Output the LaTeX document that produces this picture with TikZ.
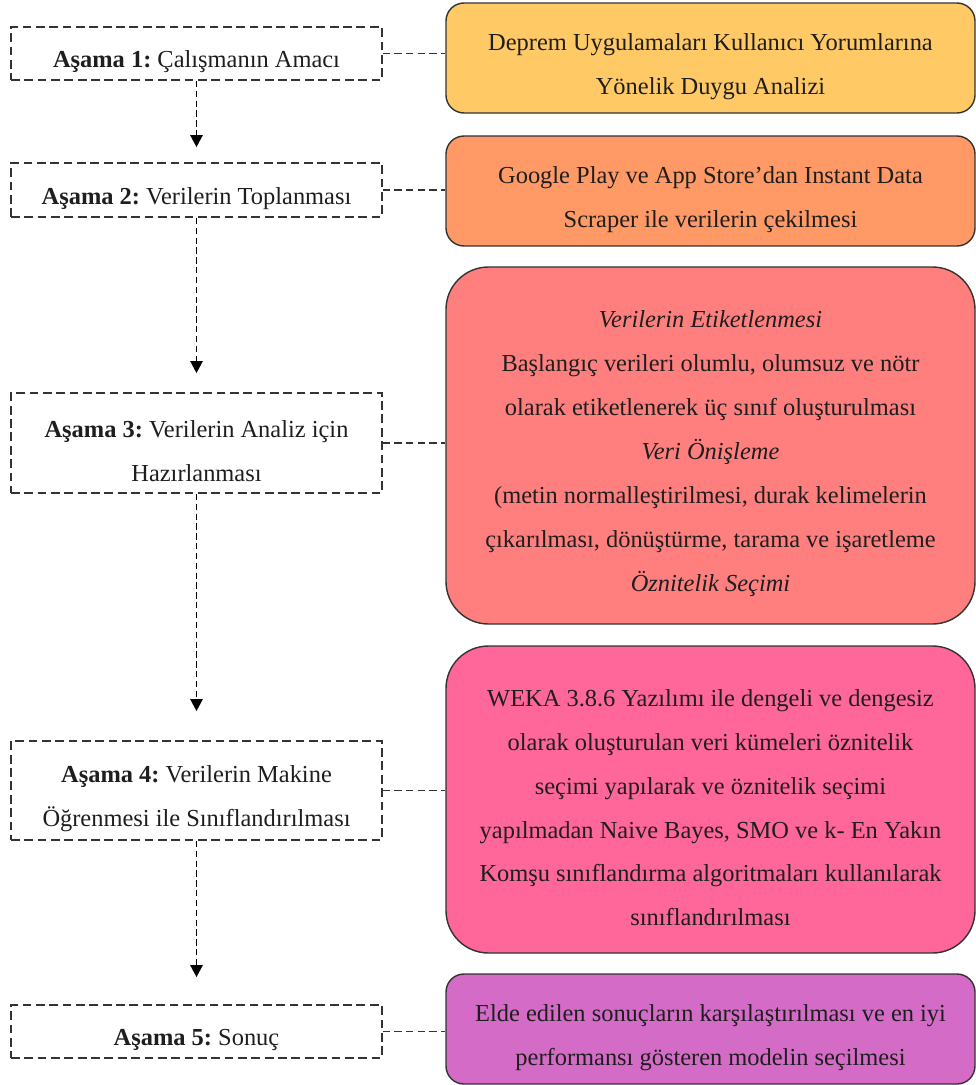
\documentclass[tikz,border=0pt]{standalone}
\usepackage{fontspec}
\setmainfont{Liberation Serif}
\usepackage{tikz}
\usetikzlibrary{positioning, arrows.meta, calc}
\definecolor{stepYellow}{HTML}{FFC966}
\definecolor{stepOrange}{HTML}{FF9966}
\definecolor{stepSalmon}{HTML}{FF7F7F}
\definecolor{stepPink}{HTML}{FF6699}
\definecolor{stepPurple}{HTML}{D46BC7}
\definecolor{lineGray}{HTML}{333333}
\definecolor{textDark}{HTML}{1E1E1E}
\frenchspacing
% extra room above the first line, as the text sits a little low
\newcommand{\lowtext}{\rule{0pt}{19pt}}

\begin{document}
\begin{tikzpicture}[
    every node/.style={font=\fontsize{13.9}{25}\selectfont, align=center, text=textDark},
    stage/.style={
        rectangle, draw=lineGray, line width=1pt,
        dash pattern=on 5pt off 2.6pt,
        minimum width=7.42cm, inner sep=2pt
    },
    detail/.style={
        rectangle, rounded corners=0.36cm,
        draw=lineGray, line width=0.8pt,
        minimum width=10.58cm, inner sep=3pt
    },
    arrow/.style={-{Triangle[length=6.8pt, width=7pt]}, draw=black,
        line width=0.85pt, dash pattern=on 3.6pt off 2pt},
    link/.style={draw=lineGray, line width=0.9pt, dash pattern=on 4.2pt off 2.4pt},
]
\useasboundingbox (0,0) rectangle (19.52,-21.7);

% === STAGES (left column) ===
\node[stage, minimum height=1.06cm] (s1) at (3.93,-1.07)
    {\lowtext\textbf{Aşama 1:} Çalışmanın Amacı};
\node[stage, minimum height=1.08cm] (s2) at (3.93,-3.80)
    {\lowtext\textbf{Aşama 2:} Verilerin Toplanması};
\node[stage, minimum height=2.00cm] (s3) at (3.93,-8.86)
    {\lowtext\textbf{Aşama 3:} Verilerin Analiz için\\Hazırlanması};
\node[stage, minimum height=1.98cm] (s4) at (3.93,-15.81)
    {\lowtext\textbf{Aşama 4:} Verilerin Makine\\Öğrenmesi ile Sınıflandırılması};
\node[stage, minimum height=1.06cm] (s5) at (3.93,-20.63)
    {\lowtext\textbf{Aşama 5:} Sonuç};

% === DETAILS (right column) ===
\node[detail, fill=stepYellow, minimum height=2.2cm] (d1) at (14.21,-1.16)
    {\lowtext Deprem Uygulamaları Kullanıcı Yorumlarına\\Yönelik Duygu Analizi};
\node[detail, fill=stepOrange, minimum height=2.2cm] (d2) at (14.21,-3.82)
    {\lowtext Google Play ve App Store’dan Instant Data\\Scraper ile verilerin çekilmesi};
\node[detail, fill=stepSalmon, minimum height=7.14cm, rounded corners=0.85cm] (d3) at (14.21,-8.91)
    {\lowtext\textit{Verilerin Etiketlenmesi}\\
     Başlangıç verileri olumlu, olumsuz ve nötr\\
     olarak etiketlenerek üç sınıf oluşturulması\\
     \textit{Veri Önişleme}\\
     (metin normalleştirilmesi, durak kelimelerin\\
     çıkarılması, dönüştürme, tarama ve işaretleme\\
     \textit{Öznitelik Seçimi}};
\node[detail, fill=stepPink, minimum height=6.14cm, rounded corners=0.85cm] (d4) at (14.21,-15.99)
    {\lowtext WEKA 3.8.6 Yazılımı ile dengeli ve dengesiz\\
     olarak oluşturulan veri kümeleri öznitelik\\
     seçimi yapılarak ve öznitelik seçimi\\
     yapılmadan Naive Bayes, SMO ve k- En Yakın\\
     Komşu sınıflandırma algoritmaları kullanılarak\\
     sınıflandırılması};
\node[detail, fill=stepPurple, minimum height=2.2cm] (d5) at (14.21,-20.58)
    {\lowtext Elde edilen sonuçların karşılaştırılması ve en iyi\\performansı gösteren modelin seçilmesi};

% === ARROWS ===
\draw[arrow, shorten >=0.3cm] (s1) -- (s2);
\draw[arrow, shorten >=0.38cm] (s2) -- (s3);
\draw[arrow, shorten >=0.58cm] (s3) -- (s4);
\draw[arrow, shorten >=0.54cm] (s4) -- (s5);

% === LINKS stage -> detail ===
\foreach \i in {1,...,5}
    \draw[link] (s\i.east) -- (s\i.east -| d\i.west);
\end{tikzpicture}
\end{document}
